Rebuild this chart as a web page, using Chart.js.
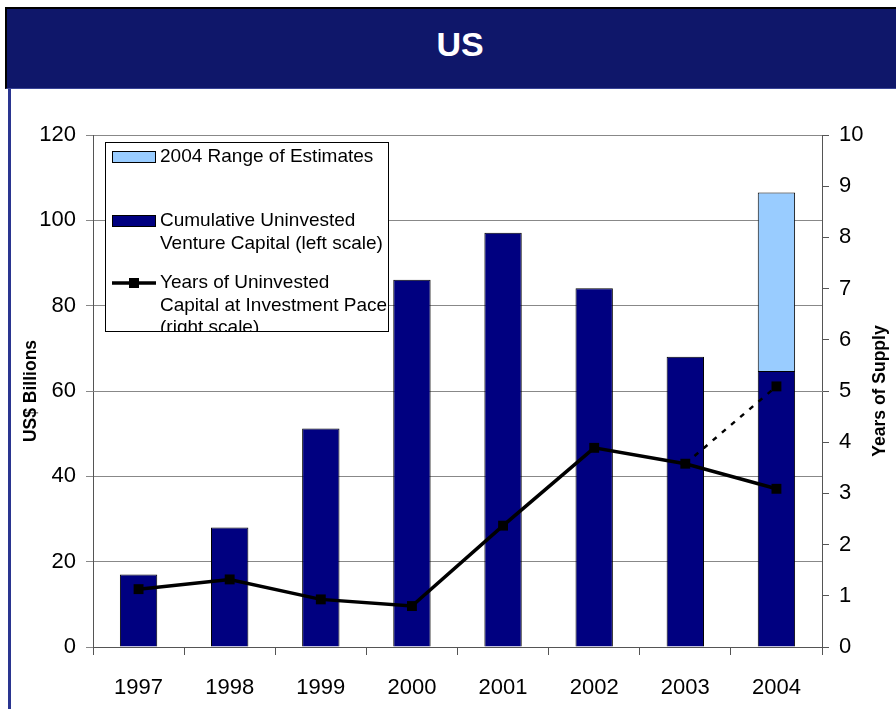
<!DOCTYPE html>
<html><head><meta charset="utf-8">
<script src="https://cdn.jsdelivr.net/npm/chart.js@4/dist/chart.umd.min.js"></script>
<style>
html,body{margin:0;padding:0;background:#fff;width:896px;height:709px;overflow:hidden;font-family:"Liberation Sans",Arial,sans-serif;}
#titlebar{position:absolute;left:5px;top:7px;width:891px;height:82px;background:#0f176a;border-top:2px solid #000;border-left:2px solid #000;border-bottom:1px solid #3a4596;box-sizing:border-box;}
#titlebar span{position:absolute;left:0;width:906px;top:0;height:79px;line-height:70px;text-align:center;color:#fff;font-weight:bold;font-size:34px;}
#leftline{position:absolute;left:8px;top:89px;width:3px;height:620px;background:#2a3590;}
#wrap{position:absolute;left:11px;top:88px;width:885px;height:621px;}
</style></head>
<body>
<div id="titlebar"><span>US</span></div>
<div id="leftline"></div>
<div id="wrap"><canvas id="c" width="885" height="621"></canvas></div>
<script>
const years = ['1997','1998','1999','2000','2001','2002','2003','2004'];
const uninvestedCapital = [17, 28, 51.2, 86.1, 97.1, 84.1, 68, 64.7];
const rangeOfEstimates = [null, null, null, null, null, null, null, 41.8];
const yearsOfSupply = [1.13, 1.32, 0.93, 0.80, 2.37, 3.89, 3.58, 3.09];
const yearsOfSupplyEstimate = [null, null, null, null, null, null, 3.58, 5.09];
const estimatePointRadius = [0, 0, 0, 0, 0, 0, 0, 7];

const FONT = '"Liberation Sans", Arial, sans-serif';
Chart.defaults.font.family = FONT;
Chart.defaults.color = '#000';

const legendItems = [
  {type:'box', color:'#99ccff', lines:['2004 Range of Estimates'], y:69},
  {type:'box', color:'#000080', lines:['Cumulative Uninvested','Venture Capital (left scale)'], y:133},
  {type:'line', color:'#000', lines:['Years of Uninvested','Capital at Investment Pace','(right scale)'], y:195}
];

const overlay = {
  id:'overlay',
  afterDraw(chart){
    const ctx = chart.ctx;
    const ca = chart.chartArea;
    const cy = (ca.top + ca.bottom) / 2;
    [['US$ Billions', 20], ['Years of Supply', 869]].forEach(([t, x]) => {
      ctx.save();
      ctx.fillStyle = '#000';
      ctx.font = 'bold 17.5px ' + FONT;
      ctx.textAlign = 'center';
      ctx.textBaseline = 'middle';
      ctx.translate(x, cy);
      ctx.rotate(-Math.PI/2);
      ctx.fillText(t, 0, 0);
      ctx.restore();
    });
    // legend box
    const bx = 94, by = 54, bw = 284, bh = 190;
    ctx.save();
    ctx.fillStyle = '#fff';
    ctx.fillRect(bx, by, bw, bh);
    ctx.beginPath();
    ctx.rect(bx, by, bw, bh);
    ctx.clip();
    ctx.font = '19px ' + FONT;
    ctx.textAlign = 'left';
    ctx.textBaseline = 'middle';
    legendItems.forEach(it => {
      if (it.type === 'box') {
        ctx.fillStyle = it.color;
        ctx.fillRect(101.5, it.y - 5.5, 43, 11);
        ctx.strokeStyle = '#000';
        ctx.lineWidth = 1;
        ctx.strokeRect(101.5, it.y - 5.5, 43, 11);
      } else {
        ctx.strokeStyle = '#000';
        ctx.lineWidth = 3.5;
        ctx.beginPath();
        ctx.moveTo(101, it.y);
        ctx.lineTo(145, it.y);
        ctx.stroke();
        ctx.fillStyle = '#000';
        ctx.fillRect(118, it.y - 5, 10, 10);
      }
      ctx.fillStyle = '#000';
      it.lines.forEach((t, i) => ctx.fillText(t, 149, it.y + i * 22.5));
    });
    ctx.restore();
    ctx.save();
    ctx.strokeStyle = '#000';
    ctx.lineWidth = 1;
    ctx.strokeRect(bx + 0.5, by + 0.5, bw - 1, bh - 1);
    ctx.restore();
  }
};

new Chart(document.getElementById('c'), {
  data: {
    labels: years,
    datasets: [
      {type:'line', label:'Years of Uninvested Capital at Investment Pace (right scale)', data: yearsOfSupply, yAxisID:'y2',
       borderColor:'#000', backgroundColor:'#000', borderWidth:3.5, pointStyle:'rect', pointRadius:7, pointBackgroundColor:'#000', pointBorderWidth:0, tension:0, order:0},
      {type:'line', label:'Estimate', data: yearsOfSupplyEstimate, yAxisID:'y2',
       borderColor:'#000', backgroundColor:'#000', borderWidth:2.5, borderDash:[5,7], pointStyle:'rect', pointRadius: estimatePointRadius, pointBackgroundColor:'#000', pointBorderWidth:0, tension:0, order:0},
      {type:'bar', label:'Cumulative Uninvested Venture Capital (left scale)', data: uninvestedCapital, yAxisID:'y',
       backgroundColor:'#000080', borderColor:'#000', borderWidth:1, barPercentage:0.41, categoryPercentage:1, order:2},
      {type:'bar', label:'2004 Range of Estimates', data: rangeOfEstimates, yAxisID:'y',
       backgroundColor:'#99ccff', borderColor:'#000', borderWidth:1, barPercentage:0.41, categoryPercentage:1, order:2}
    ]
  },
  options: {
    responsive:false,
    animation:false,
    devicePixelRatio:1,
    layout:{padding:{top:47,left:0,right:0,bottom:0}},
    plugins:{legend:{display:false}, tooltip:{enabled:false}, title:{display:false}},
    scales: {
      x: {
        stacked:true,
        grid:{offset:true, drawOnChartArea:false, drawTicks:true, tickLength:8, color:'#555'},
        border:{color:'#555', width:1},
        ticks:{font:{size:22, family:FONT}, color:'#000', padding:20, maxRotation:0},
        afterFit(s){ s.height = 62; }
      },
      y: {
        position:'left', stacked:true, min:0, max:120,
        ticks:{stepSize:20, font:{size:22, family:FONT}, color:'#000', padding:10},
        grid:{color:'#888', tickLength:7, drawTicks:true},
        border:{color:'#555', width:1},
        afterFit(s){ s.width = 82; }
      },
      y2: {
        position:'right', min:0, max:10,
        ticks:{stepSize:1, font:{size:22, family:FONT}, color:'#000', padding:10},
        grid:{drawOnChartArea:false, color:'#555', tickLength:7, drawTicks:true},
        border:{color:'#555', width:1},
        afterFit(s){ s.width = 74; }
      }
    }
  },
  plugins:[overlay]
});
</script>
</body></html>
